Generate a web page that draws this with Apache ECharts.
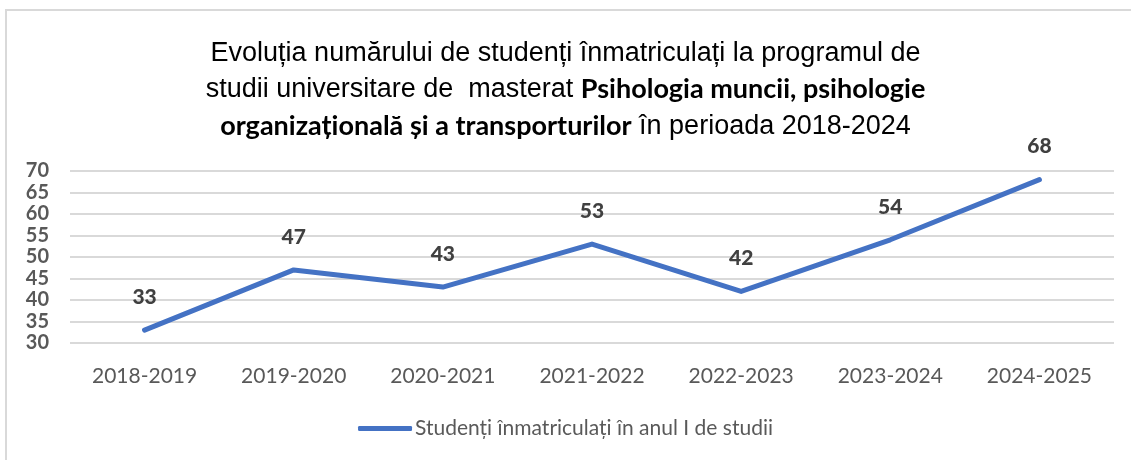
<!DOCTYPE html>
<html>
<head>
<meta charset="utf-8">
<script src="https://cdn.jsdelivr.net/npm/echarts@6/dist/echarts.min.js"></script>
<style>
  html, body { margin: 0; padding: 0; background: #fff; }
  #chart { width: 1131px; height: 460px; }
</style>
</head>
<body>
<div id="chart"></div>
<script>
// date
const years = ["2018-2019", "2019-2020", "2020-2021", "2021-2022", "2022-2023", "2023-2024", "2024-2025"]
const students = [33, 47, 43, 53, 42, 54, 68]
const seriesName = "Studenți înmatriculați în anul I de studii"
const yTicks = [30, 35, 40, 45, 50, 55, 60, 65, 70]

const titleLines = [
    "Evoluția numărului de studenți înmatriculați la programul de",
    "studii universitare de  masterat {b|Psihologia muncii, psihologie}",
    "{b|organizațională și a transporturilor} în perioada 2018-2024"
]

const dom = document.getElementById('chart')
const myChart = echarts.init(dom, null, { renderer: 'canvas' })

const labelFont = "Lato, 'Open Sans', sans-serif"

const option = {
    animation: false,
    backgroundColor: '#fff',
    graphic: [{
        type: 'rect',
        shape: { x: 6, y: 10, width: 1300, height: 600 },
        style: { fill: 'none', stroke: '#d9d9d9', lineWidth: 2 },
        silent: true
    }],
    title: {
        text: titleLines.join("\n"),
        left: 'center',
        top: 30,
        textStyle: {
            fontFamily: "'Liberation Sans', Arial, sans-serif",
            fontSize: 27,
            fontWeight: 'normal',
            color: '#000',
            lineHeight: 36.5,
            rich: {
                b: {
                    fontFamily: labelFont,
                    fontSize: 27,
                    fontWeight: 'bold',
                    color: '#000',
                    lineHeight: 36.5
                }
            }
        }
    },
    legend: {
        bottom: 16,
        left: 'center',
        itemWidth: 54,
        itemHeight: 5,
        itemGap: 4,
        icon: 'roundRect',
        itemStyle: { color: '#4472C4', opacity: 1 },
        textStyle: { fontFamily: labelFont, fontSize: 21, color: '#595959', padding: [0, 0, 0, -2] },
        data: [seriesName]
    },
    grid: { left: 70, right: 17, top: 171, bottom: 117 },
    xAxis: {
        type: 'category',
        data: years,
        boundaryGap: true,
        axisLine: { show: false },
        axisTick: { show: false },
        axisLabel: { fontFamily: labelFont, fontSize: 21, color: '#595959', margin: 23 }
    },
    yAxis: {
        type: 'value',
        min: yTicks[0],
        max: yTicks[yTicks.length - 1],
        interval: 5,
        axisLine: { show: false },
        axisTick: { show: false },
        splitLine: { lineStyle: { color: '#d9d9d9', width: 2 } },
        axisLabel: {
            fontFamily: labelFont, fontSize: 20, fontWeight: 'bold', color: '#595959',
            margin: 21
        }
    },
    series: [{
        name: seriesName,
        type: 'line',
        data: students,
        symbol: 'circle',
        symbolSize: 1,
        showSymbol: true,
        lineStyle: { color: '#4472C4', width: 5, cap: 'round', join: 'round' },
        itemStyle: { color: '#4472C4', opacity: 0 },
        label: {
            show: true,
            position: 'top',
            distance: 22,
            fontFamily: labelFont,
            fontSize: 21,
            fontWeight: 900,
            color: '#404040',
            opacity: 1
        }
    }]
}

myChart.setOption(option)
</script>
</body>
</html>
